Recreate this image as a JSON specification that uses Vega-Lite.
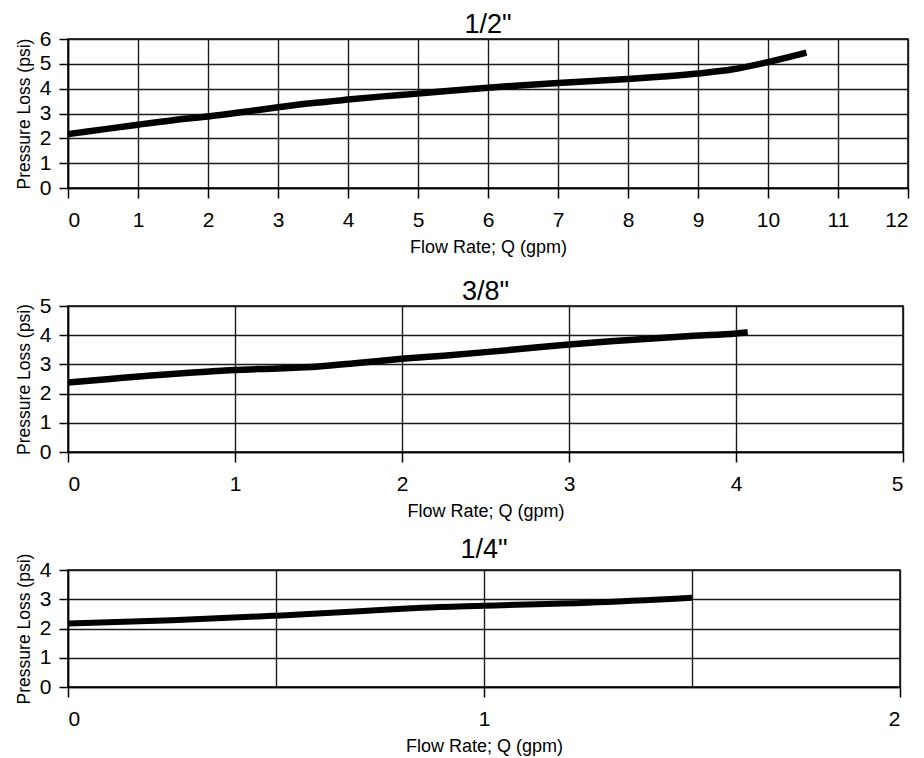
{
  "$schema": "https://vega.github.io/schema/vega-lite/v6.json",
  "background": "white",
  "padding": {"left": 14, "top": 10, "right": 5, "bottom": 0},
  "bounds": "flush",
  "spacing": 118,
  "config": {
    "font": "Liberation Sans",
    "view": {"stroke": "black", "strokeWidth": 1.5},
    "axis": {
      "domainColor": "black", "domainWidth": 1.5,
      "grid": true, "gridColor": "#1a1a1a", "gridWidth": 1.4, "gridOpacity": 1,
      "tickColor": "black", "tickWidth": 1.5, "tickSize": 10,
      "labelFont": "Liberation Sans", "labelFontSize": 21, "labelColor": "black", "labelPadding": 11,
      "titleFont": "Liberation Sans", "titleFontSize": 17.5, "titleColor": "black", "titleFontWeight": "normal"
    },
    "axisY": {"tickSize": 9, "labelPadding": 8, "titlePadding": 6},
    "axisX": {"titlePadding": 8, "titleFontSize": 18},
    "title": {"font": "Liberation Sans", "fontSize": 27, "fontWeight": "normal", "color": "black", "offset": -11, "baseline": "alphabetic"}
  },
  "datasets": {
    "half": [
      {"q": 0, "p": 2.17}, {"q": 0.5, "p": 2.36}, {"q": 1, "p": 2.55}, {"q": 1.5, "p": 2.73},
      {"q": 2, "p": 2.88}, {"q": 2.5, "p": 3.06}, {"q": 3, "p": 3.25}, {"q": 3.5, "p": 3.42},
      {"q": 4, "p": 3.56}, {"q": 4.5, "p": 3.69}, {"q": 5, "p": 3.8}, {"q": 5.5, "p": 3.93},
      {"q": 6, "p": 4.04}, {"q": 6.5, "p": 4.14}, {"q": 7, "p": 4.23}, {"q": 7.5, "p": 4.31},
      {"q": 8, "p": 4.39}, {"q": 8.5, "p": 4.49}, {"q": 9, "p": 4.61}, {"q": 9.5, "p": 4.78},
      {"q": 10, "p": 5.07}, {"q": 10.55, "p": 5.45}
    ],
    "threeEighths": [
      {"q": 0, "p": 2.38}, {"q": 0.25, "p": 2.5}, {"q": 0.5, "p": 2.62}, {"q": 0.75, "p": 2.72},
      {"q": 1, "p": 2.81}, {"q": 1.25, "p": 2.86}, {"q": 1.5, "p": 2.93}, {"q": 1.75, "p": 3.06},
      {"q": 2, "p": 3.19}, {"q": 2.25, "p": 3.3}, {"q": 2.5, "p": 3.42}, {"q": 2.75, "p": 3.55},
      {"q": 3, "p": 3.68}, {"q": 3.25, "p": 3.79}, {"q": 3.5, "p": 3.89}, {"q": 3.75, "p": 3.98},
      {"q": 4, "p": 4.06}, {"q": 4.07, "p": 4.1}
    ],
    "quarter": [
      {"q": 0, "p": 2.17}, {"q": 0.25, "p": 2.28}, {"q": 0.5, "p": 2.44}, {"q": 0.6, "p": 2.51},
      {"q": 0.75, "p": 2.63}, {"q": 0.85, "p": 2.71}, {"q": 1, "p": 2.78}, {"q": 1.25, "p": 2.88},
      {"q": 1.5, "p": 3.05}
    ]
  },
  "vconcat": [
    {
      "title": "1/2\"",
      "width": 840, "height": 149,
      "data": {"name": "half"},
      "mark": {"type": "line", "color": "black", "strokeWidth": 6.5, "interpolate": "monotone", "strokeCap": "butt"},
      "encoding": {
        "x": {"field": "q", "type": "quantitative", "title": "Flow Rate; Q (gpm)",
              "scale": {"domain": [0, 12], "nice": false},
              "axis": {"values": [0,1,2,3,4,5,6,7,8,9,10,11,12]}},
        "y": {"field": "p", "type": "quantitative", "title": "Pressure Loss (psi)",
              "scale": {"domain": [0, 6], "nice": false},
              "axis": {"values": [0,1,2,3,4,5,6]}}
      }
    },
    {
      "title": "3/8\"",
      "width": 835, "height": 146,
      "data": {"name": "threeEighths"},
      "mark": {"type": "line", "color": "black", "strokeWidth": 6.5, "interpolate": "monotone", "strokeCap": "butt"},
      "encoding": {
        "x": {"field": "q", "type": "quantitative", "title": "Flow Rate; Q (gpm)",
              "scale": {"domain": [0, 5], "nice": false},
              "axis": {"values": [0,1,2,3,4,5]}},
        "y": {"field": "p", "type": "quantitative", "title": "Pressure Loss (psi)",
              "scale": {"domain": [0, 5], "nice": false},
              "axis": {"values": [0,1,2,3,4,5]}}
      }
    },
    {
      "title": "1/4\"",
      "width": 832, "height": 117,
      "data": {"name": "quarter"},
      "mark": {"type": "line", "color": "black", "strokeWidth": 6, "interpolate": "monotone", "strokeCap": "butt"},
      "encoding": {
        "x": {"field": "q", "type": "quantitative", "title": "Flow Rate; Q (gpm)",
              "scale": {"domain": [0, 2], "nice": false},
              "axis": {"values": [0,0.5,1,1.5,2],
                       "labelExpr": "datum.value % 1 == 0 ? toString(datum.value) : ''",
                       "tickOpacity": {"condition": {"test": "datum.value % 1 == 0", "value": 1}, "value": 0}}},
        "y": {"field": "p", "type": "quantitative", "title": "Pressure Loss (psi)",
              "scale": {"domain": [0, 4], "nice": false},
              "axis": {"values": [0,1,2,3,4]}}
      }
    }
  ]
}
